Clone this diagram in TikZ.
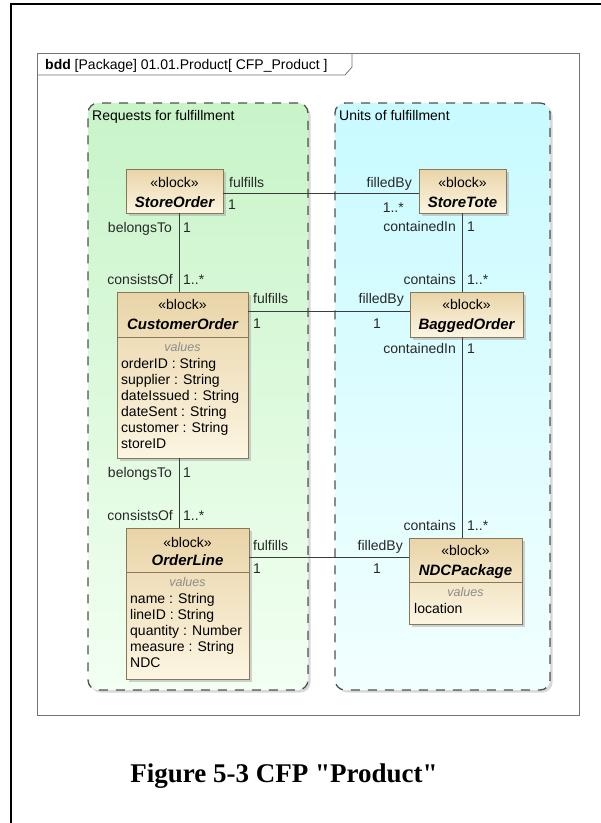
\documentclass[tikz,border=0pt]{standalone}
\usepackage{fontspec}
\setmainfont{Liberation Sans}
\newfontfamily\capfont{Liberation Serif}
\usetikzlibrary{shadows}
\definecolor{tanA}{RGB}{233,212,168}
\definecolor{tanB}{RGB}{252,245,225}
\definecolor{bcol}{RGB}{135,120,90}
\definecolor{grnA}{RGB}{200,244,200}
\definecolor{grnB}{RGB}{242,255,242}
\definecolor{cynA}{RGB}{200,250,255}
\definecolor{cynB}{RGB}{242,255,255}
\definecolor{pkgline}{RGB}{80,80,80}
\definecolor{conncol}{RGB}{60,60,60}
\definecolor{lblcol}{RGB}{40,40,40}
\begin{document}
\begin{tikzpicture}[x=1pt,y=-1pt, font=\fontsize{14}{16}\selectfont,
 blk/.style={draw=bcol, line width=0.8pt, top color=tanA, bottom color=tanB, anchor=north west, inner sep=0pt, outer sep=0pt, drop shadow={shadow xshift=2.5pt, shadow yshift=-2.5pt, fill=black!35}},
 pkg/.style={draw=pkgline, line width=1.3pt, dash pattern=on 9pt off 8pt, rounded corners=10pt, anchor=north west, inner sep=0pt, outer sep=0pt, drop shadow={shadow xshift=2.5pt, shadow yshift=-2.5pt, fill=black!30}},
 conn/.style={draw=conncol, line width=0.9pt},
 cline/.style={draw=bcol, line width=0.8pt},
 lblL/.style={anchor=base west, inner sep=0pt, text=lblcol},
 lblR/.style={anchor=base east, inner sep=0pt, text=lblcol},
 stereo/.style={anchor=base, inner sep=0pt},
 bname/.style={anchor=base, inner sep=0pt, font=\fontsize{15}{17}\selectfont\bfseries\itshape},
 vals/.style={anchor=base, inner sep=0pt, text=black!45, font=\fontsize{12.5}{15}\selectfont\itshape},
 attr/.style={anchor=base west, inner sep=0pt},
]
\useasboundingbox (0,0) rectangle (601,823);
\fill[white] (0,0) rectangle (601,823);
% outer frame
\draw[line width=2pt] (11,823) -- (11,4) -- (601,4);
% diagram frame
\draw[draw=black!55, line width=0.8pt] (37,53) rectangle (579,715);
\draw[draw=black!55, line width=0.8pt] (37,75) -- (345,75) -- (352,67) -- (352,53);
\node[anchor=base west, inner sep=0pt] (hdr) at (45,69) {\textbf{bdd} [Package] 01.01.Product[ CFP\_Product ]};
% packages
\node[pkg, top color=grnA, bottom color=grnB, minimum width=220pt, minimum height=587pt] (preq) at (88,103) {};
\node[pkg, top color=cynA, bottom color=cynB, minimum width=215pt, minimum height=587pt] (punit) at (335,103) {};
\node[anchor=base west, inner sep=0pt] (preqlbl) at (92,120) {Requests for fulfillment};
\node[anchor=base west, inner sep=0pt] (punitlbl) at (339,120) {Units of fulfillment};
% blocks
\node[blk, minimum width=97pt, minimum height=44pt] (SO) at (126,169) {};
\node[blk, minimum width=87pt, minimum height=44pt] (ST) at (419,169) {};
\node[blk, minimum width=131pt, minimum height=166pt] (CO) at (117,292) {};
\node[blk, minimum width=113pt, minimum height=45pt] (BO) at (410,292) {};
\node[blk, minimum width=123pt, minimum height=151pt] (OL) at (126,528) {};
\node[blk, minimum width=113pt, minimum height=86pt] (NP) at (409,538) {};
% compartment lines
\draw[cline] ([yshift=-45pt]CO.north west) -- ([yshift=-45pt]CO.north east);
\draw[cline] ([yshift=-44pt]OL.north west) -- ([yshift=-44pt]OL.north east);
\draw[cline] ([yshift=-44pt]NP.north west) -- ([yshift=-44pt]NP.north east);
% block texts
\node[stereo] (SOs) at (174.5,187) {«block»};
\node[bname] (SOn) at (174.5,207) {StoreOrder};
\node[stereo] (STs) at (462.5,187) {«block»};
\node[bname] (STn) at (462.5,207) {StoreTote};
\node[stereo] (COs) at (182.5,309) {«block»};
\node[bname] (COn) at (182.5,329) {CustomerOrder};
\node[vals] (COv) at (182.5,351) {values};
\node[attr] (COa1) at (121,368) {orderID : String};
\node[attr] (COa2) at (121,384) {supplier : String};
\node[attr] (COa3) at (121,400) {dateIssued : String};
\node[attr] (COa4) at (121,416) {dateSent : String};
\node[attr] (COa5) at (121,432) {customer : String};
\node[attr] (COa6) at (121,448) {storeID};
\node[stereo] (BOs) at (466.5,309) {«block»};
\node[bname] (BOn) at (466.5,329) {BaggedOrder};
\node[stereo] (OLs) at (187.5,547) {«block»};
\node[bname] (OLn) at (187.5,565) {OrderLine};
\node[vals] (OLv) at (187.5,586) {values};
\node[attr] (OLa1) at (130,603) {name : String};
\node[attr] (OLa2) at (130,619) {lineID : String};
\node[attr] (OLa3) at (130,635) {quantity : Number};
\node[attr] (OLa4) at (130,651) {measure : String};
\node[attr] (OLa5) at (130,667) {NDC};
\node[stereo] (NPs) at (465.5,555) {«block»};
\node[bname] (NPn) at (465.5,575) {NDCPackage};
\node[vals] (NPv) at (465.5,596) {values};
\node[attr] (NPa1) at (414,613) {location};
% connector guides
\coordinate (lx) at (179,0);
\coordinate (rx) at (462,0);
\coordinate (h1) at (0,193);
\coordinate (h2) at (0,311);
\coordinate (h3) at (0,557);
% connectors
\draw[conn] (SO.east |- h1) -- (ST.west |- h1);
\draw[conn] (CO.east |- h2) -- (BO.west |- h2);
\draw[conn] (OL.east |- h3) -- (NP.west |- h3);
\draw[conn] (SO.south -| lx) -- (CO.north -| lx);
\draw[conn] (CO.south -| lx) -- (OL.north -| lx);
\draw[conn] (ST.south -| rx) -- (BO.north -| rx);
\draw[conn] (BO.south -| rx) -- (NP.north -| rx);
% labels: StoreOrder - StoreTote
\node[lblL] (a1) at (229,187) {fulfills};
\node[lblL] (a2) at (228,209) {1};
\node[lblR] (a3) at (412,187) {filledBy};
\node[lblR] (a4) at (404,212) {1..*};
% StoreOrder - CustomerOrder
\node[lblR] (b1) at (172,232) {belongsTo};
\node[lblL] (b2) at (183,232) {1};
\node[lblR] (b3) at (173,284) {consistsOf};
\node[lblL] (b4) at (183,284) {1..*};
% StoreTote - BaggedOrder
\node[lblR] (c1) at (456,231) {containedIn};
\node[lblL] (c2) at (467,231) {1};
\node[lblR] (c3) at (456,284) {contains};
\node[lblL] (c4) at (467,284) {1..*};
% CustomerOrder - BaggedOrder
\node[lblL] (d1) at (253,303) {fulfills};
\node[lblL] (d2) at (253,328) {1};
\node[lblR] (d3) at (404,303) {filledBy};
\node[lblL] (d4) at (373,328) {1};
% BaggedOrder - NDCPackage
\node[lblR] (e1) at (456,353) {containedIn};
\node[lblL] (e2) at (467,353) {1};
\node[lblR] (e3) at (456,530) {contains};
\node[lblL] (e4) at (467,530) {1..*};
% CustomerOrder - OrderLine
\node[lblR] (f1) at (172,477) {belongsTo};
\node[lblL] (f2) at (183,477) {1};
\node[lblR] (f3) at (173,520) {consistsOf};
\node[lblL] (f4) at (183,520) {1..*};
% OrderLine - NDCPackage
\node[lblL] (g1) at (253,550) {fulfills};
\node[lblL] (g2) at (253,573) {1};
\node[lblR] (g3) at (403,550) {filledBy};
\node[lblL] (g4) at (373,573) {1};
% caption
\node[anchor=base, inner sep=0pt, font=\capfont\bfseries\fontsize{27}{30}\selectfont] (cap) at (284,782) {Figure 5-3 CFP "Product"};
\end{tikzpicture}
\end{document}
